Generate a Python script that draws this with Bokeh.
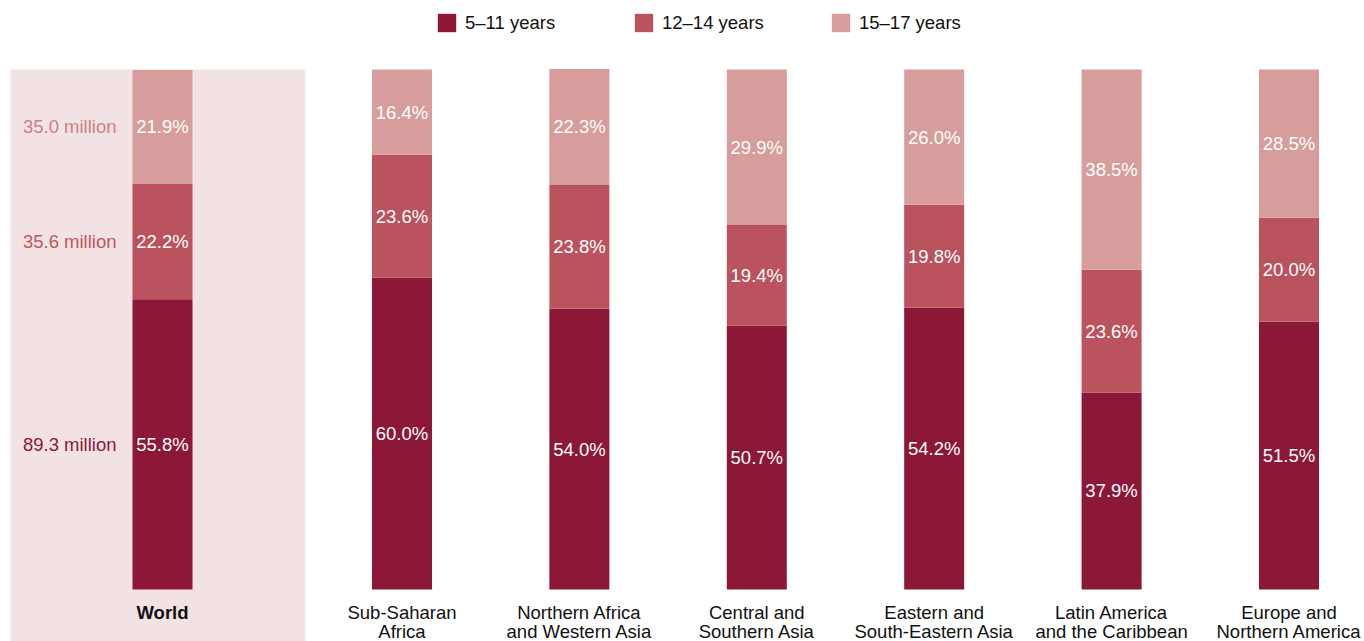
from bokeh.plotting import figure
from bokeh.models import ColumnDataSource, Legend, LegendItem, Range1d
from bokeh.core.properties import value
from bokeh.embed import file_html
from bokeh.resources import INLINE

# ---------------- data ----------------
regions = [
    "World",
    "Sub-Saharan\nAfrica",
    "Northern Africa\nand Western Asia",
    "Central and\nSouthern Asia",
    "Eastern and\nSouth-Eastern Asia",
    "Latin America\nand the Caribbean",
    "Europe and\nNorthern America",
]
age_5_11 = [55.8, 60.0, 54.0, 50.7, 54.2, 37.9, 51.5]
age_12_14 = [22.2, 23.6, 23.8, 19.4, 19.8, 23.6, 20.0]
age_15_17 = [21.9, 16.4, 22.3, 29.9, 26.0, 38.5, 28.5]
world_millions = [89.3, 35.6, 35.0]          # 5-11, 12-14, 15-17
series_labels = ["5\u201311 years", "12\u201314 years", "15\u201317 years"]

# ---------------- style ----------------
FONT = "Liberation Sans"
FS = "18.5px"
colors = ["#8c1736", "#bb535e", "#d69d9c"]
million_colors = ["#8c1838", "#c05560", "#cb8084"]
bg_color = "#f3e2e3"

W, H = 1364, 641
PX_X = 177.4            # pixels per x unit
PX_Y = 5.2              # pixels per percent
world_gap = 1.35
bar_w = 60 / PX_X

xs = [0.0] + [world_gap + i for i in range(len(regions) - 1)]
x_start = -162 / PX_X
x_end = x_start + W / PX_X
y_start = -(H - 589) / PX_Y
y_end = y_start + H / PX_Y

p = figure(width=W, height=H, x_range=Range1d(x_start, x_end),
           y_range=Range1d(y_start, y_end), output_backend="svg",
           toolbar_location=None, x_axis_location=None, y_axis_location=None,
           min_border=0, min_border_left=0, min_border_right=0,
           min_border_top=0, min_border_bottom=0)
p.grid.visible = False
p.outline_line_color = None
p.background_fill_color = "white"
p.border_fill_color = "white"

# World background panel
p.quad(left=[xs[0] - 152 / PX_X], right=[xs[0] + 143 / PX_X],
       bottom=[y_start - 5], top=[100], fill_color=bg_color, line_color=None)

src = ColumnDataSource(dict(x=xs, a=age_5_11, b=age_12_14, c=age_15_17))
rs = p.vbar_stack(["a", "b", "c"], x="x", width=bar_w, color=colors,
                  line_color=None, source=src)

# percentage labels
series = [age_5_11, age_12_14, age_15_17]
tx, ty, tt = [], [], []
for i, x in enumerate(xs):
    base = 0.0
    for s in series:
        v = s[i]
        tx.append(x)
        ty.append(base + v / 2)
        tt.append(f"{v:.1f}%")
        base += v
p.text(x=tx, y=ty, text=tt, text_color="white", text_align="center",
       text_baseline="middle", text_font=value(FONT), text_font_size=FS)

# world million labels
mx, my, mt = [], [], []
base = 0.0
for k, s in enumerate(series):
    v = s[0]
    mx.append(xs[0])
    my.append(base + v / 2)
    mt.append(f"{world_millions[k]:.1f} million")
    base += v
msrc = ColumnDataSource(dict(x=mx, y=my, t=mt, c=million_colors))
p.text(x="x", y="y", text="t", text_color="c", source=msrc,
       x_offset=-46, text_align="right", text_baseline="middle",
       text_font=value(FONT), text_font_size=FS)

# category labels
p.text(x=xs[:1], y=[0], text=regions[:1], text_align="center",
       text_baseline="top", y_offset=12, text_color="#111111",
       text_font=value(FONT), text_font_size=FS, text_font_style="bold")
p.text(x=xs[1:], y=[0] * (len(xs) - 1), text=regions[1:], text_align="center",
       text_baseline="top", y_offset=12, text_color="#111111",
       text_font=value(FONT), text_font_size=FS, text_line_height=0.95)

legend = Legend(items=[LegendItem(label=series_labels[i], renderers=[rs[i]])
                       for i in range(3)],
                orientation="horizontal", location=(435, 607), padding=0,
                spacing=0, margin=0, glyph_width=23, glyph_height=23,
                label_standoff=7, label_width=167, label_height=18,
                label_text_font=FONT, label_text_font_size=FS,
                label_text_color="#111111", border_line_color=None,
                background_fill_alpha=0)
p.add_layout(legend)

open("out.html", "w").write(file_html(p, INLINE))
